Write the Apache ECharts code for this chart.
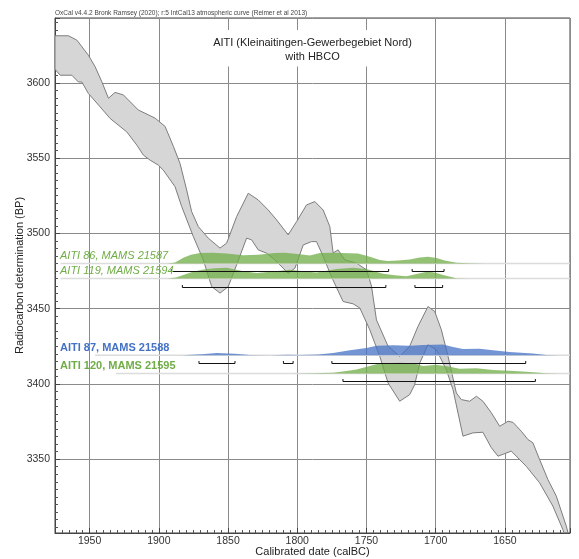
<!DOCTYPE html>
<html>
<head>
<meta charset="utf-8">
<script src="https://cdn.jsdelivr.net/npm/echarts@6/dist/echarts.min.js"></script>
<style>
  html, body { margin: 0; padding: 0; background: #fff; }
  #chart { width: 579px; height: 559px; }
</style>
</head>
<body>
<div id="chart"></div>
<script>
// IntCal13 envelope: upper and lower edges (calBC year, BP)
const curveUpperYears = [1975.0, 1965.3, 1959.2, 1950.9, 1946.0, 1941.2, 1936.4, 1931.6, 1925.6, 1914.8, 1902.7, 1895.5, 1889.5, 1884.7, 1879.9, 1876.3, 1871.5, 1864.3, 1855.8, 1851.0, 1843.8, 1835.4, 1828.2, 1821.0, 1814.9, 1806.6, 1800.5, 1793.3, 1787.3, 1781.3, 1776.5, 1774.1, 1770.5, 1765.7, 1757.2, 1750.0, 1746.4, 1742.8, 1734.4, 1726.0, 1718.8, 1712.8, 1705.6, 1700.7, 1695.9, 1691.1, 1685.1, 1681.5, 1675.5, 1670.6, 1665.9, 1659.8, 1653.8, 1647.8, 1644.2, 1638.2, 1633.4, 1629.8, 1625.0, 1619.0, 1612.9, 1605.7, 1604.4];
const curveUpperBP    = [3631.2, 3631.2, 3628.3, 3618.3, 3610.6, 3600.7, 3589.7, 3593.6, 3591.9, 3581.9, 3576.5, 3571.0, 3557.8, 3546.4, 3528.8, 3514.4, 3504.5, 3496.8, 3490.2, 3493.5, 3511.1, 3526.6, 3522.2, 3515.5, 3508.9, 3499.0, 3507.8, 3518.9, 3521.1, 3515.5, 3504.5, 3487.0, 3489.0, 3482.4, 3480.2, 3475.8, 3465.0, 3442.5, 3425.0, 3418.3, 3425.0, 3438.2, 3451.4, 3448.1, 3435.9, 3418.3, 3394.0, 3389.6, 3388.5, 3391.8, 3388.5, 3380.8, 3371.9, 3375.2, 3374.5, 3368.6, 3363.1, 3360.9, 3349.9, 3336.6, 3325.5, 3305.6, 3301.2];
const curveLowerYears = [1975.0, 1971.3, 1962.8, 1958.1, 1955.6, 1950.9, 1942.4, 1935.2, 1923.2, 1915.9, 1911.2, 1906.3, 1900.4, 1896.8, 1888.3, 1883.5, 1875.1, 1867.9, 1861.8, 1855.8, 1849.9, 1843.4, 1836.6, 1833.0, 1828.2, 1822.1, 1816.2, 1806.6, 1801.7, 1795.7, 1789.7, 1786.1, 1781.3, 1775.3, 1766.9, 1759.7, 1754.8, 1747.6, 1740.4, 1734.4, 1726.0, 1718.8, 1715.2, 1711.5, 1705.6, 1699.5, 1692.3, 1687.5, 1680.3, 1673.1, 1665.9, 1659.8, 1655.0, 1645.4, 1634.6, 1625.0, 1615.4, 1608.2, 1607.4];
const curveLowerBP    = [3609.0, 3605.0, 3605.0, 3600.5, 3600.5, 3592.9, 3584.0, 3576.3, 3567.4, 3558.6, 3552.0, 3548.6, 3545.3, 3542.0, 3531.0, 3517.8, 3497.9, 3482.4, 3464.6, 3460.3, 3464.6, 3480.1, 3496.8, 3495.7, 3489.0, 3486.8, 3482.4, 3473.5, 3476.8, 3492.3, 3494.5, 3494.5, 3484.7, 3471.2, 3454.7, 3453.2, 3450.4, 3435.9, 3418.3, 3400.6, 3388.5, 3392.9, 3399.5, 3413.9, 3426.0, 3422.7, 3409.4, 3396.2, 3365.3, 3367.5, 3367.9, 3357.6, 3352.0, 3355.4, 3345.3, 3334.4, 3318.9, 3303.4, 3301.2];

// Radiocarbon determinations
const sampleLabels = ['AITI 86, MAMS 21587', 'AITI 119, MAMS 21594', 'AITI 87, MAMS 21588', 'AITI 120, MAMS 21595'];
const sampleBP = [3480, 3470, 3419, 3407];

// Calibrated probability, relative to each sample's maximum
const prob86Years = [1893.4, 1888.3, 1882.3, 1876.8, 1870.3, 1860.9, 1851.0, 1839.0, 1828.4, 1816.2, 1809.0, 1798.1, 1790.9, 1783.7, 1772.9, 1756.1, 1747.6, 1740.4, 1734.6, 1727.4, 1718.8, 1711.5, 1705.6, 1699.3, 1693.5, 1685.1, 1675.5, 1663.4];
const prob86      = [0, 0.08, 0.53, 0.82, 0.98, 1.0, 0.92, 0.76, 0.82, 0.97, 1.0, 0.85, 0.75, 0.98, 1.0, 0.94, 0.62, 0.33, 0.22, 0.28, 0.38, 0.55, 0.63, 0.5, 0.28, 0.07, 0.02, 0];
const prob119Years = [1893.4, 1887.6, 1882.3, 1876.1, 1867.9, 1859.5, 1851.0, 1839.0, 1829.4, 1817.4, 1805.3, 1795.7, 1786.1, 1771.6, 1759.7, 1750.0, 1738.0, 1729.6, 1721.1, 1713.0, 1705.6, 1700.0, 1694.7, 1685.1, 1675.5];
const prob119      = [0, 0.1, 0.33, 0.62, 0.85, 0.97, 1.0, 0.68, 0.52, 0.66, 0.83, 0.68, 0.57, 0.9, 1.0, 0.9, 0.45, 0.3, 0.22, 0.45, 0.65, 0.55, 0.33, 0.03, 0];
const prob87Years = [1883.3, 1868.8, 1858.2, 1845.0, 1834.2, 1819.8, 1806.8, 1798.1, 1785.1, 1774.1, 1762.0, 1750.0, 1742.8, 1730.8, 1718.8, 1709.2, 1694.7, 1687.5, 1680.3, 1668.3, 1658.7, 1646.6, 1629.8, 1620.1, 1610.5];
const prob87      = [0, 0.1, 0.22, 0.15, 0.03, 0.01, 0.05, 0.03, 0.08, 0.22, 0.47, 0.69, 0.9, 0.93, 0.9, 0.97, 1.0, 0.78, 0.6, 0.62, 0.47, 0.31, 0.16, 0.04, 0];
const prob120Years = [1805.3, 1790.9, 1774.1, 1765.7, 1757.2, 1747.6, 1740.4, 1726.0, 1716.4, 1709.2, 1699.5, 1689.9, 1682.7, 1670.6, 1658.7, 1646.6, 1634.6, 1620.1, 1610.5];
const prob120      = [0, 0.02, 0.06, 0.2, 0.37, 0.68, 0.94, 1.0, 0.94, 0.7, 0.81, 0.62, 0.43, 0.47, 0.31, 0.24, 0.15, 0.02, 0];

// Faint low-probability tails (calBC from, to)
const tail86 = [1971, 1603];
const tail119 = [1971, 1603];
const tail87 = [1946, 1603];
const tail120 = [1931, 1603];

// 95.4% ranges (calBC from, to)
const range86 = [[1891, 1734], [1717, 1694]];
const range119 = [[1883, 1736], [1715, 1695]];
const range87 = [[1871, 1845], [1810, 1803], [1775, 1635]];
const range120 = [[1767, 1628]];

const GREEN = '#70AD47';
const BLUE = '#4472C4';
const PEAK_HEIGHT_BP = 7.1;   // drawn height of a distribution's maximum
const FONT = '"Liberation Sans", Arial, sans-serif';

const samples = [
  { label: sampleLabels[0], bp: sampleBP[0], years: prob86Years, prob: prob86, tail: tail86, ranges: range86, color: GREEN, fontStyle: 'italic', fontWeight: 'normal' },
  { label: sampleLabels[1], bp: sampleBP[1], years: prob119Years, prob: prob119, tail: tail119, ranges: range119, color: GREEN, fontStyle: 'italic', fontWeight: 'normal' },
  { label: sampleLabels[2], bp: sampleBP[2], years: prob87Years, prob: prob87, tail: tail87, ranges: range87, color: BLUE, fontStyle: 'normal', fontWeight: 'bold' },
  { label: sampleLabels[3], bp: sampleBP[3], years: prob120Years, prob: prob120, tail: tail120, ranges: range120, color: GREEN, fontStyle: 'normal', fontWeight: 'bold' }
];

function renderCurve(params, api) {
  const pts = [];
  for (let i = 0; i < curveUpperYears.length; i++) pts.push(api.coord([curveUpperYears[i], curveUpperBP[i]]));
  for (let i = curveLowerYears.length - 1; i >= 0; i--) pts.push(api.coord([curveLowerYears[i], curveLowerBP[i]]));
  return {
    type: 'polygon',
    shape: { points: pts },
    style: { fill: '#d6d6d6', stroke: '#7d7d7d', lineWidth: 1 }
  };
}

function renderSample(params, api) {
  const s = samples[params.dataIndex];
  const cs = params.coordSys;
  const children = [];

  const t0 = api.coord([s.tail[0], s.bp]);
  const t1 = api.coord([s.tail[1], s.bp]);
  children.push({
    type: 'line', z2: 1,
    shape: { x1: t0[0], y1: t0[1], x2: t1[0], y2: t1[1] },
    style: { stroke: '#dcdcdc', lineWidth: 1.5 }
  });

  const pts = s.years.map((yr, i) => api.coord([yr, s.bp + s.prob[i] * PEAK_HEIGHT_BP]));
  pts.push(api.coord([s.years[s.years.length - 1], s.bp]));
  pts.push(api.coord([s.years[0], s.bp]));
  children.push({
    type: 'polygon', z2: 2,
    shape: { points: pts },
    style: { fill: s.color, opacity: 0.75 }
  });

  s.ranges.forEach(r => {
    const a = api.coord([r[0], s.bp]);
    const b = api.coord([r[1], s.bp]);
    const y = Math.round(a[1] + 8) + 0.5;
    children.push({
      type: 'polyline', z2: 10,
      shape: { points: [[a[0], y - 2.5], [a[0], y], [b[0], y], [b[0], y - 2.5]] },
      style: { stroke: '#111', lineWidth: 1, fill: null }
    });
  });

  const base = api.coord([s.tail[0], s.bp]);
  children.push({
    type: 'text', z2: 11,
    x: cs.x + 5, y: base[1] - 7.4,
    style: {
      text: s.label, fill: s.color, fontSize: 11, fontFamily: FONT,
      fontStyle: s.fontStyle, fontWeight: s.fontWeight,
      align: 'left', verticalAlign: 'middle'
    }
  });

  return { type: 'group', children: children };
}

const chart = echarts.init(document.getElementById('chart'), null, { renderer: 'canvas' });

chart.setOption({
  animation: false,
  backgroundColor: '#fff',
  textStyle: { fontFamily: FONT },
  title: [
    {
      text: 'OxCal v4.4.2 Bronk Ramsey (2020); r:5 IntCal13 atmospheric curve (Reimer et al 2013)',
      left: 55, top: 10, padding: 0,
      textStyle: { fontSize: 6.5, fontWeight: 'normal', color: '#444', fontFamily: FONT }
    },
    {
      text: 'AITI (Kleinaitingen-Gewerbegebiet Nord)\nwith HBCO',
      left: 304.5, top: 30, padding: [6, 8, 2, 8],
      textAlign: 'center',
      backgroundColor: '#fff',
      textStyle: { fontSize: 11, lineHeight: 14.3, fontWeight: 'normal', color: '#222', fontFamily: FONT }
    }
  ],
  grid: {
    left: 55, top: 18, right: 9, bottom: 26,
    outerBoundsMode: 'none', containLabel: false,
    show: true, borderColor: '#444', borderWidth: 1, backgroundColor: 'transparent'
  },
  xAxis: {
    type: 'value', inverse: true, min: 1603, max: 1975, splitNumber: 8,
    name: 'Calibrated date (calBC)', nameLocation: 'middle', nameGap: 13, nameMoveOverlap: false,
    nameTextStyle: { fontSize: 11, color: '#222', fontFamily: FONT },
    axisLine: { show: true, lineStyle: { color: '#444', width: 1 } },
    axisTick: { show: true, inside: true, length: 5, lineStyle: { color: '#444' } },
    minorTick: { show: true, splitNumber: 10, length: 3, lineStyle: { color: '#555' } },
    axisLabel: { showMinLabel: false, showMaxLabel: false, margin: 3, fontSize: 10.5, color: '#333', fontFamily: FONT, formatter: v => String(v) },
    splitLine: { show: true, lineStyle: { color: '#8a8a8a', width: 1 } }
  },
  yAxis: {
    type: 'value', min: 3301, max: 3643, splitNumber: 7,
    name: 'Radiocarbon determination (BP)', nameLocation: 'middle', nameGap: 30, nameMoveOverlap: false,
    nameTextStyle: { fontSize: 11, color: '#222', fontFamily: FONT },
    axisLine: { show: true, lineStyle: { color: '#444', width: 1 } },
    axisTick: { show: true, inside: true, length: 5, lineStyle: { color: '#444' } },
    minorTick: { show: true, splitNumber: 10, length: 3, lineStyle: { color: '#555' } },
    axisLabel: { showMinLabel: false, showMaxLabel: false, margin: 5, fontSize: 10.5, color: '#333', fontFamily: FONT, formatter: v => String(v) },
    splitLine: { show: true, lineStyle: { color: '#8a8a8a', width: 1 } }
  },
  series: [
    {
      type: 'custom', name: 'IntCal13',
      renderItem: renderCurve,
      data: [0],
      silent: true
    },
    {
      type: 'custom', name: 'Samples',
      renderItem: renderSample,
      data: samples.map((s, i) => i),
      silent: true
    }
  ]
});
</script>
</body>
</html>
